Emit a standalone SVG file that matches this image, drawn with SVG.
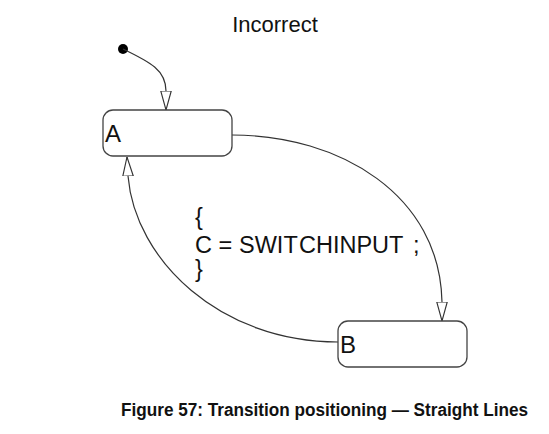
<svg xmlns="http://www.w3.org/2000/svg" width="549" height="434" viewBox="0 0 549 434">
<style>
.state{fill:#fff;stroke:#444;stroke-width:1.3}
.conn{fill:none;stroke:#333;stroke-width:1.2}
.lbl{font-family:"Liberation Sans",Arial,sans-serif;fill:#111}
</style>
<defs>
<marker id="arr" viewBox="0 0 20 12" refX="20" refY="6" markerWidth="19" markerHeight="12" markerUnits="userSpaceOnUse" orient="auto">
<path d="M0,0.5 L20,6 L0,11.5 Z" fill="#fff" stroke="#333" stroke-width="1.2"/>
</marker>
</defs>
<rect width="549" height="434" fill="#fff"/>
<text class="lbl" x="275" y="32" font-size="22" text-anchor="middle">Incorrect</text>
<g id="connectors">
<circle cx="123" cy="49" r="5" fill="#000"/>
<path class="conn" d="M123,49 C150,62 166,70 166,91 L166,110" marker-end="url(#arr)"/>
<path class="conn" d="M232,135 C340,135 440,195 442,302 L442,321" marker-end="url(#arr)"/>
<path class="conn" d="M338,342 C220,342 135,260 128,176 L127,157" marker-end="url(#arr)"/>
</g>
<g id="stateA">
<rect class="state" x="103" y="110" width="129" height="46" rx="10"/>
<text class="lbl" x="105" y="142" font-size="24">A</text>
</g>
<g id="stateB">
<rect class="state" x="338" y="321" width="129" height="46" rx="10"/>
<text class="lbl" x="340" y="353" font-size="24">B</text>
</g>
<g id="label">
<text class="lbl" x="195" y="225" font-size="23.5">{</text>
<text class="lbl" x="195" y="253" font-size="23.5">C = <tspan x="239">SWIT</tspan><tspan x="299">CHINPUT</tspan><tspan x="413">;</tspan></text>
<text class="lbl" x="195" y="277" font-size="23.5">}</text>
</g>
<text class="lbl" x="121" y="416" font-size="17.5" font-weight="bold" textLength="407" lengthAdjust="spacingAndGlyphs">Figure 57: Transition positioning — Straight Lines</text>
</svg>
